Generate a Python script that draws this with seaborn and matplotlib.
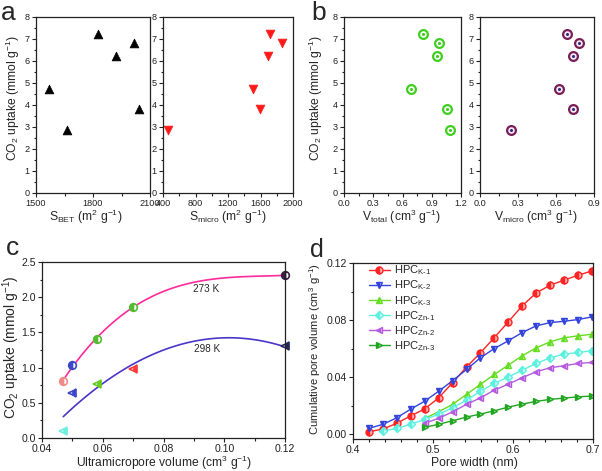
import matplotlib
matplotlib.use("Agg")
import matplotlib.pyplot as plt
from matplotlib.ticker import AutoMinorLocator, MultipleLocator, FormatStrFormatter
import seaborn as sns

# ---------------- data ----------------
# panel a / b (six samples)
uptake = [7.25, 6.83, 6.25, 4.73, 3.82, 2.85]
s_bet = [1827, 2017, 1920, 1567, 2043, 1664]
s_micro = [1717, 1870, 1691, 1513, 1596, 457]
v_total = [0.815, 0.975, 0.954, 0.69, 1.054, 1.086]
v_micro = [0.684, 0.784, 0.735, 0.627, 0.735, 0.242]

# panel c
ultra_vol = [0.047, 0.050, 0.058, 0.070, 0.120]
up_273 = [0.81, 1.03, 1.41, 1.86, 2.31]
up_298 = [0.10, 0.64, 0.76, 0.98, 1.30]
c_circle_colors = ["#f28a8a", "#3b46c8", "#55bb33", "#55bb33", "#3a1f3f"]
c_tri_colors = ["#6eeedd", "#3b46c8", "#66cc22", "#ff3a3a", "#22265a"]

# panel d
pore_width = [0.420, 0.4374, 0.4548, 0.4722, 0.4896, 0.507, 0.5245, 0.5419,
              0.5593, 0.5767, 0.5941, 0.6115, 0.629, 0.6464, 0.6638, 0.6812, 0.6986]
hpc_k1 = [0.0016, 0.0035, 0.0075, 0.0128, 0.0175, 0.0254, 0.036, 0.047, 0.057,
          0.0677, 0.0787, 0.0899, 0.099, 0.1044, 0.108, 0.1114, 0.1144]
hpc_k2 = [0.004, 0.0068, 0.0114, 0.0175, 0.023, 0.030, 0.0374, 0.0453, 0.0535,
          0.060, 0.0654, 0.0712, 0.0759, 0.0782, 0.0791, 0.0803, 0.0822]
hpc_k3 = [0.011, 0.0156, 0.0208, 0.0278, 0.0348, 0.0418, 0.0483, 0.0549,
          0.0605, 0.0647, 0.0675, 0.0689, 0.070]
hpc_zn1 = [0.002, 0.004, 0.0068, 0.0103, 0.0138, 0.0184, 0.0238, 0.030, 0.0355,
           0.040, 0.0448, 0.0495, 0.0535, 0.056, 0.0572, 0.0584]
hpc_zn2 = [0.0075, 0.011, 0.0156, 0.0208, 0.0254, 0.0308, 0.035, 0.0395,
           0.0437, 0.0465, 0.0479, 0.0495, 0.0502]
hpc_zn3 = [0.0047, 0.0068, 0.0093, 0.0119, 0.014, 0.0163, 0.0189, 0.021,
           0.0229, 0.0243, 0.0252, 0.0261, 0.0266]
d_labels = ["HPC$_{K\u20101}$", "HPC$_{K\u20102}$", "HPC$_{K\u20103}$",
            "HPC$_{Zn\u20101}$", "HPC$_{Zn\u20102}$", "HPC$_{Zn\u20103}$"]

# ---------------- style ----------------
sns.set_style("ticks")
plt.rcParams["font.family"] = ["Liberation Sans", "DejaVu Sans"]
plt.rcParams["mathtext.fontset"] = "custom"
plt.rcParams["mathtext.rm"] = "Liberation Sans"
plt.rcParams["mathtext.it"] = "Liberation Sans"
plt.rcParams["mathtext.default"] = "regular"

fig = plt.figure(figsize=(6.02, 4.71), dpi=100)
W, H = 602.0, 471.0


def rect(l, t, r, b):
    return [l / W, 1 - b / H, (r - l) / W, (b - t) / H]


def style_ax(ax, tick_fs, nminx=2, nminy=2):
    for s in ax.spines.values():
        s.set_visible(True)
        s.set_linewidth(0.9)
        s.set_color("#222222")
    ax.tick_params(which="both", direction="out", top=False, right=False,
                   labelsize=tick_fs, width=0.8, colors="#222222", pad=1.5)
    ax.tick_params(which="major", length=3)
    ax.tick_params(which="minor", length=1.8)
    ax.xaxis.set_minor_locator(AutoMinorLocator(nminx))
    ax.yaxis.set_minor_locator(AutoMinorLocator(nminy))


def ylab_at(x, yc, text, fs):
    fig.text(x / W, 1 - yc / H, text, rotation=90, ha="center", va="center",
             fontsize=fs)


def xlab_at(xc, y, text, fs):
    fig.text(xc / W, 1 - y / H, text, ha="center", va="center", fontsize=fs)


ylab = "CO$_2$ uptake (mmol g$^{-1}$)"
small_fs = 6.6

# ---------- panel a ----------
ax_a1 = fig.add_axes(rect(36, 17, 150, 193))
sns.scatterplot(x=s_bet, y=uptake, marker="^", color="black", s=40,
                edgecolor="black", linewidth=0.5, ax=ax_a1)
ax_a1.set_xlim(1500, 2100)
ax_a1.set_ylim(0, 8)
ax_a1.xaxis.set_major_locator(MultipleLocator(300))
ax_a1.yaxis.set_major_locator(MultipleLocator(1))
style_ax(ax_a1, small_fs)
ax_a1.set_xlabel("")
ax_a1.set_ylabel("")

ax_a2 = fig.add_axes(rect(163, 17, 293, 193))
sns.scatterplot(x=s_micro, y=uptake, marker="v", color="#ff1a1a", s=40,
                edgecolor="#ff1a1a", linewidth=0.5, ax=ax_a2)
ax_a2.set_xlim(400, 2000)
ax_a2.set_ylim(0, 8)
ax_a2.xaxis.set_major_locator(MultipleLocator(400))
ax_a2.yaxis.set_major_locator(MultipleLocator(1))
style_ax(ax_a2, small_fs)
ax_a2.set_xlabel("")
ax_a2.set_ylabel("")

ylab_at(12.5, 98, ylab, 8.7)
xlab_at(86, 217, "S$_{BET}$ (m$^2$ g$^{-1}$)", 8.7)
xlab_at(228, 217, "S$_{micro}$ (m$^2$ g$^{-1}$)", 8.7)

# ---------- panel b ----------
ax_b1 = fig.add_axes(rect(344, 17, 461, 193))
sns.scatterplot(x=v_total, y=uptake, marker="o", color="white", s=40,
                edgecolor="#3fcf1f", linewidth=1.6, ax=ax_b1)
sns.scatterplot(x=v_total, y=uptake, marker="o", color="#3fcf1f", s=5,
                edgecolor="#3fcf1f", linewidth=0, ax=ax_b1)
ax_b1.set_xlim(0, 1.2)
ax_b1.set_ylim(0, 8)
ax_b1.xaxis.set_major_locator(MultipleLocator(0.3))
ax_b1.yaxis.set_major_locator(MultipleLocator(1))
ax_b1.xaxis.set_major_formatter(FormatStrFormatter("%.1f"))
style_ax(ax_b1, small_fs)
ax_b1.set_xlabel("")
ax_b1.set_ylabel("")

ax_b2 = fig.add_axes(rect(480, 17, 594, 193))
sns.scatterplot(x=v_micro, y=uptake, marker="o", color="#f4eef8", s=40,
                edgecolor="#7a1f55", linewidth=1.6, ax=ax_b2)
sns.scatterplot(x=v_micro, y=uptake, marker="o", color="#3a2a8a", s=5,
                edgecolor="#3a2a8a", linewidth=0, ax=ax_b2)
ax_b2.set_xlim(0, 0.9)
ax_b2.set_ylim(0, 8)
ax_b2.xaxis.set_major_locator(MultipleLocator(0.3))
ax_b2.yaxis.set_major_locator(MultipleLocator(1))
ax_b2.xaxis.set_major_formatter(FormatStrFormatter("%.1f"))
style_ax(ax_b2, small_fs)
ax_b2.set_xlabel("")
ax_b2.set_ylabel("")

ylab_at(316, 98, ylab, 8.7)
xlab_at(402, 217, "V$_{total}$ (cm$^3$ g$^{-1}$)", 8.7)
xlab_at(536, 217, "V$_{micro}$ (cm$^3$ g$^{-1}$)", 8.7)

# ---------- panel c ----------
ax_c = fig.add_axes(rect(42, 262, 285, 438))
sns.regplot(x=ultra_vol, y=up_273, order=3, ci=None, scatter=False,
            line_kws=dict(color="#ff2a9c", lw=1.2), ax=ax_c)
sns.regplot(x=ultra_vol, y=up_298, order=2, ci=None, scatter=False,
            line_kws=dict(color="#4a36c8", lw=1.2), ax=ax_c)
for xv, yv, col in zip(ultra_vol, up_273, c_circle_colors):
    ax_c.plot([xv], [yv], marker="o", ms=5.5, color=col, mec=col, mew=1.2,
              fillstyle="left", markerfacecoloralt="#ffffff", ls="none",
              clip_on=False)
for xv, yv, col in zip(ultra_vol, up_298, c_tri_colors):
    ax_c.plot([xv], [yv], marker="<", ms=5.5, color=col, mec=col, mew=1.2,
              fillstyle="right", markerfacecoloralt="#ffffff", ls="none",
              clip_on=False)
ax_c.text(0.0939, 2.12, "273 K", fontsize=7.2, ha="center", va="center")
ax_c.text(0.0944, 1.27, "298 K", fontsize=7.2, ha="center", va="center")
ax_c.set_xlim(0.04, 0.12)
ax_c.set_ylim(0, 2.5)
ax_c.xaxis.set_major_locator(MultipleLocator(0.02))
ax_c.yaxis.set_major_locator(MultipleLocator(0.5))
ax_c.xaxis.set_major_formatter(FormatStrFormatter("%.2f"))
ax_c.yaxis.set_major_formatter(FormatStrFormatter("%.1f"))
style_ax(ax_c, 7.6)
ax_c.set_xlabel("")
ax_c.set_ylabel("")
ylab_at(11, 347, ylab, 10.0)
xlab_at(164, 463, "Ultramicropore volume (cm$^3$ g$^{-1}$)", 8.7)

# ---------- panel d ----------
ax_d = fig.add_axes(rect(353, 263, 593, 439))
d_series = [hpc_k1, hpc_k2, hpc_k3, hpc_zn1, hpc_zn2, hpc_zn3]
d_colors = ["#ff2424", "#3344dd", "#66dd22", "#5ef0de", "#b45ae0", "#22a622"]
d_alt = ["#ffb0b0", "#b0b8ff", "#c8f5a8", "#d0fbf5", "#ecc8ff", "#a8e6a8"]
d_markers = ["o", "v", "^", "D", "<", ">"]
d_ms = [5.0, 5.0, 5.0, 4.2, 5.0, 5.0]
for ys, col, alt, mk, ms, lab in zip(d_series, d_colors, d_alt, d_markers, d_ms, d_labels):
    xs = pore_width[len(pore_width) - len(ys):]
    sns.lineplot(x=xs, y=ys, color=col, marker=mk, markersize=ms,
                 markeredgecolor=col, markeredgewidth=1.0, fillstyle="left",
                 markerfacecoloralt=alt, lw=1.0, label=lab, ax=ax_d)
ax_d.set_xlim(0.4, 0.7)
ax_d.set_ylim(-0.0035, 0.12)
ax_d.xaxis.set_major_locator(MultipleLocator(0.1))
ax_d.yaxis.set_major_locator(MultipleLocator(0.04))
ax_d.xaxis.set_major_formatter(FormatStrFormatter("%.1f"))
ax_d.yaxis.set_major_formatter(FormatStrFormatter("%.2f"))
style_ax(ax_d, 7.6, nminx=5, nminy=2)
ax_d.set_xlabel("")
ax_d.set_ylabel("")
ylab_at(315, 349, "Cumulative pore volume (cm$^3$ g$^{-1}$)", 8.1)
xlab_at(474, 463, "Pore width (nm)", 8.8)
ax_d.legend(loc="upper left", bbox_to_anchor=(0.065, 0.997), frameon=False,
            fontsize=8, handlelength=1.9, labelspacing=0.12, borderaxespad=0,
            borderpad=0, handletextpad=0.35)

# panel letters
fig.text(1 / W, 1 - 20 / H, "a", fontsize=19)
fig.text(311 / W, 1 - 20 / H, "b", fontsize=19)
fig.text(6 / W, 1 - 255 / H, "c", fontsize=19)
fig.text(310 / W, 1 - 257 / H, "d", fontsize=18)

fig.savefig("out.png", dpi=100)
